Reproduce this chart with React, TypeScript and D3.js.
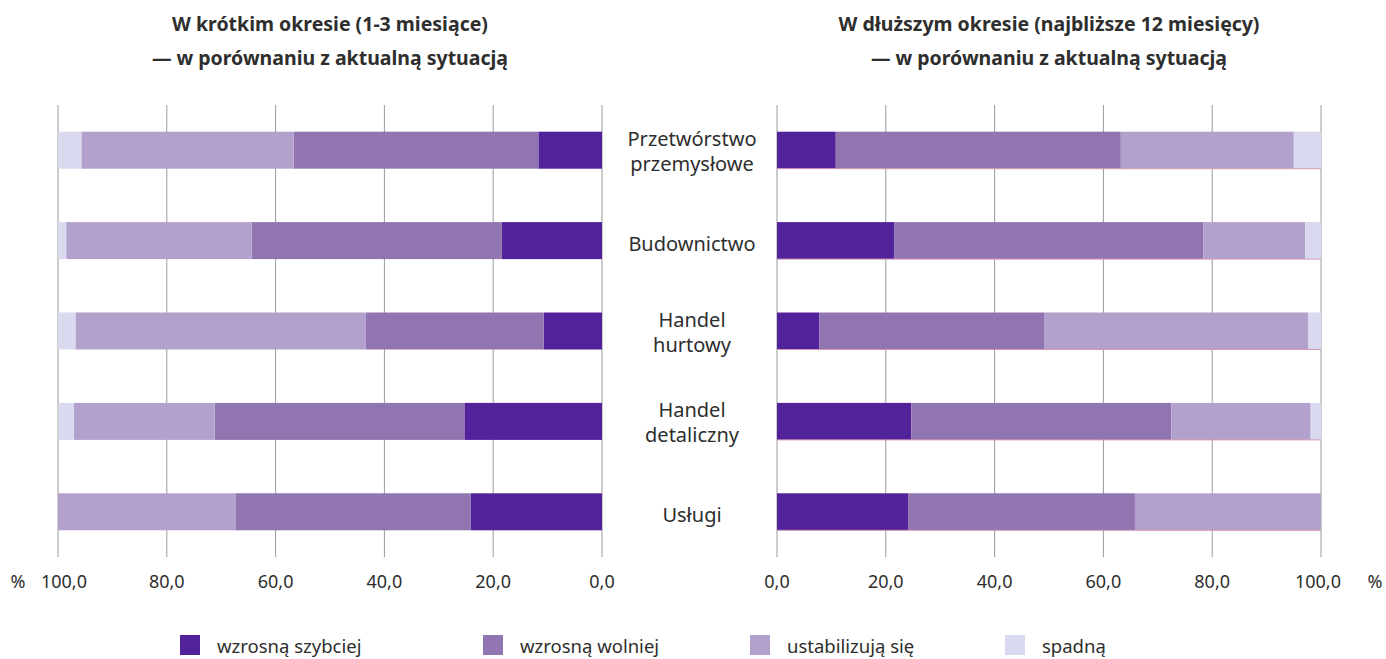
import React, { useEffect, useRef } from "react";
import * as d3 from "d3";

// categories (rows), top to bottom
const categories = ["Przetwórstwo przemysłowe", "Budownictwo", "Handel hurtowy", "Handel detaliczny", "Usługi"];
const categoryLines = [["Przetwórstwo", "przemysłowe"], ["Budownictwo"], ["Handel", "hurtowy"], ["Handel", "detaliczny"], ["Usługi"]];

const seriesNames = ["wzrosną szybciej", "wzrosną wolniej", "ustabilizują się", "spadną"];
const seriesColors = ["#52229a", "#9175b1", "#b3a1cd", "#d9d9ef"];

// W krótkim okresie (1-3 miesiące), %
const shortFaster = [11.7, 18.4, 10.7, 25.3, 24.1];
const shortSlower = [45.0, 46.0, 32.7, 45.9, 43.3];
const shortStable = [39.0, 34.1, 53.4, 25.9, 32.6];
const shortFall = [4.3, 1.5, 3.2, 2.8, 0.0];

// W dłuższym okresie (najbliższe 12 miesięcy), %
const longFaster = [10.8, 21.6, 7.8, 24.7, 24.1];
const longSlower = [52.4, 56.8, 41.4, 47.8, 41.7];
const longStable = [31.8, 18.7, 48.5, 25.6, 34.2];
const longFall = [5.0, 2.9, 2.3, 1.9, 0.0];

const tickValues = [0, 20, 40, 60, 80, 100];

const leftTitle = ["W krótkim okresie (1-3 miesiące)", "— w porównaniu z aktualną sytuacją"];
const rightTitle = ["W dłuższym okresie (najbliższe 12 miesięcy)", "— w porównaniu z aktualną sytuacją"];

const FONT = "'Noto Sans', 'Open Sans', sans-serif";
const TEXT = "#2e2e2e";

function toRows(a: number[], b: number[], c: number[], d: number[]) {
  return categories.map((cat, i) => ({
    category: cat,
    [seriesNames[0]]: a[i],
    [seriesNames[1]]: b[i],
    [seriesNames[2]]: c[i],
    [seriesNames[3]]: d[i],
  }));
}

export default function App() {
  const svgRef = useRef<SVGSVGElement>(null);

  useEffect(() => {
    document.body.style.margin = "0";
    const width = 1386;
    const height = 659;

    const svg = d3.select(svgRef.current)
      .attr("width", width)
      .attr("height", height)
      .style("font-family", FONT);
    svg.selectAll("*").remove();

    const yScale = d3.scaleBand<string>()
      .domain(categories)
      .range([105, 557]);
    const barH = 37;

    const stack = d3.stack<any>().keys(seriesNames);

    const panels = [
      { rows: toRows(shortFaster, shortSlower, shortStable, shortFall), range: [602, 58], title: leftTitle, side: "left" },
      { rows: toRows(longFaster, longSlower, longStable, longFall), range: [777, 1321], title: rightTitle, side: "right" },
    ];

    panels.forEach(p => {
      const xScale = d3.scaleLinear().domain([0, 100]).range(p.range);
      const g = svg.append("g");

      // gridlines
      g.selectAll("line.grid")
        .data(tickValues)
        .join("line")
        .attr("class", "grid")
        .attr("x1", d => xScale(d))
        .attr("x2", d => xScale(d))
        .attr("y1", 105)
        .attr("y2", 557)
        .attr("stroke", "#9a9a9a")
        .attr("stroke-width", 1);

      // bars
      const stacked = stack(p.rows);
      g.selectAll("g.layer")
        .data(stacked)
        .join("g")
        .attr("class", "layer")
        .attr("fill", (_d, i) => seriesColors[i])
        .selectAll("rect")
        .data(d => d)
        .join("rect")
        .attr("x", d => Math.min(xScale(d[0]), xScale(d[1])))
        .attr("width", d => Math.abs(xScale(d[1]) - xScale(d[0])))
        .attr("y", d => (yScale(d.data.category) as number) + yScale.bandwidth() / 2 - barH / 2)
        .attr("height", barH);

      if (p.side === "right") {
        g.selectAll("line.edge")
          .data(categories)
          .join("line")
          .attr("class", "edge")
          .attr("x1", xScale(0))
          .attr("x2", xScale(100))
          .attr("y1", d => (yScale(d) as number) + yScale.bandwidth() / 2 + barH / 2)
          .attr("y2", d => (yScale(d) as number) + yScale.bandwidth() / 2 + barH / 2)
          .attr("stroke", "#d49ab4")
          .attr("stroke-width", 1);
      }

      // tick labels
      g.selectAll("text.tick")
        .data(tickValues)
        .join("text")
        .attr("class", "tick")
        .attr("x", d => xScale(d) + (d === 100 ? (p.side === "left" ? 6 : -3) : 0))
        .attr("y", 588)
        .attr("text-anchor", "middle")
        .attr("font-size", 18)
        .attr("fill", TEXT)
        .text(d => d3.format(".1f")(d).replace(".", ","));

      g.append("text")
        .attr("x", p.side === "left" ? xScale(100) - 40 : xScale(100) + 54)
        .attr("y", 588)
        .attr("text-anchor", "middle")
        .attr("font-size", 18)
        .attr("fill", TEXT)
        .text("%");

      // title
      const cx = (p.range[0] + p.range[1]) / 2;
      g.selectAll("text.title")
        .data(p.title)
        .join("text")
        .attr("class", "title")
        .attr("x", cx)
        .attr("y", (_d, i) => 31 + i * 34)
        .attr("text-anchor", "middle")
        .attr("font-size", 19.5)
        .attr("font-weight", "bold")
        .attr("fill", TEXT)
        .text(d => d);
    });

    // category labels in the middle
    const labels = svg.append("g");
    categories.forEach((cat, i) => {
      const lines = categoryLines[i];
      const cy = (yScale(cat) as number) + yScale.bandwidth() / 2;
      lines.forEach((ln, j) => {
        labels.append("text")
          .attr("x", 692)
          .attr("y", lines.length === 1 ? cy + 10 : cy - 4 + j * 25)
          .attr("text-anchor", "middle")
          .attr("font-size", 20)
          .attr("fill", TEXT)
          .text(ln);
      });
    });

    // legend
    const legendX = [180, 483, 750, 1005];
    const legend = svg.append("g");
    seriesNames.forEach((name, i) => {
      legend.append("rect")
        .attr("x", legendX[i])
        .attr("y", 635)
        .attr("width", 20)
        .attr("height", 20)
        .attr("fill", seriesColors[i]);
      legend.append("text")
        .attr("x", legendX[i] + 37)
        .attr("y", 653)
        .attr("font-size", 18.5)
        .attr("fill", TEXT)
        .text(name);
    });
  }, []);

  return (
    <div>
      <svg ref={svgRef} style={{ display: "block" }} />
    </div>
  );
}
